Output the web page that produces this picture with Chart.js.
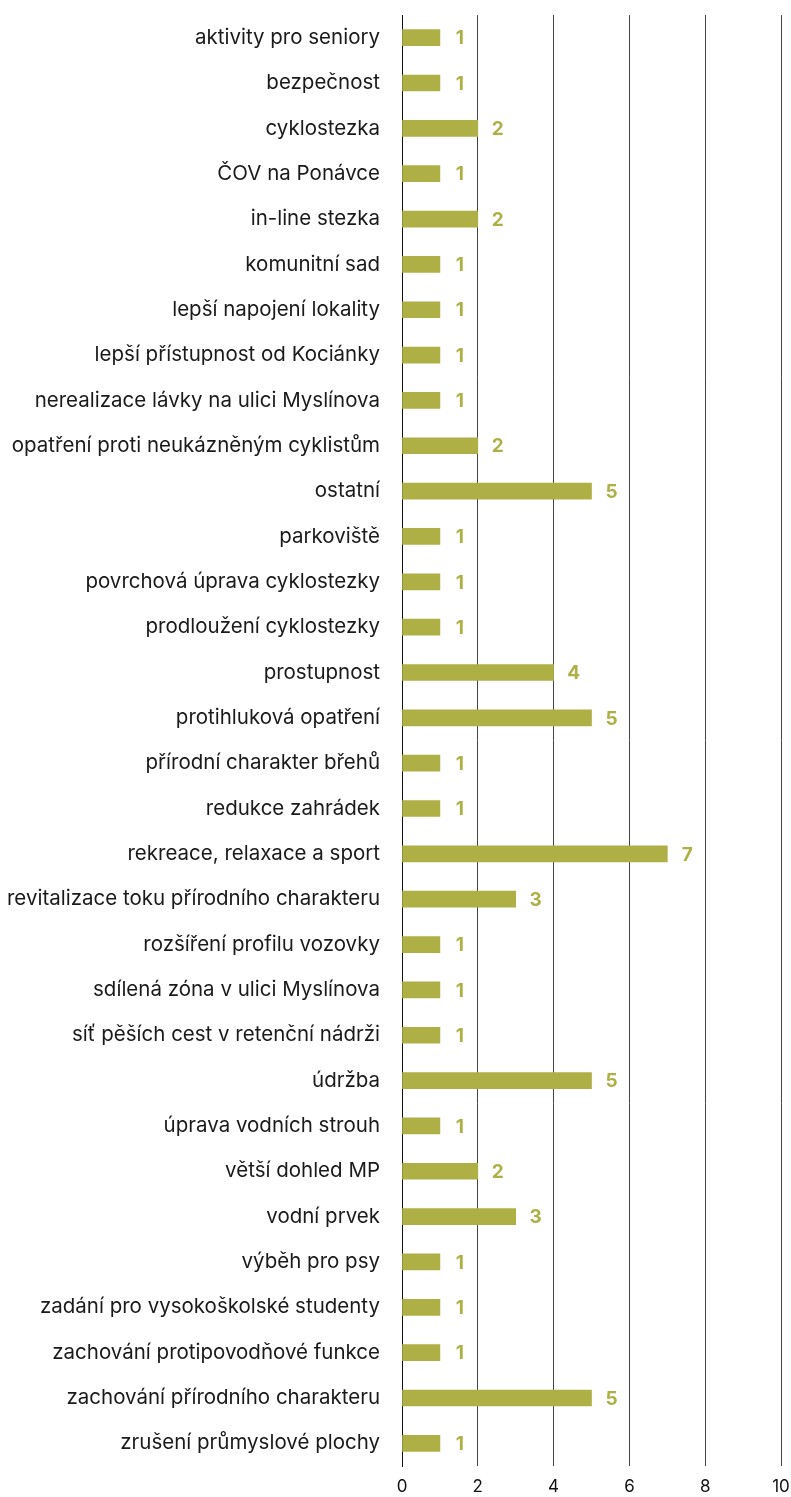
<!DOCTYPE html>
<html lang="cs">
<head>
<meta charset="UTF-8">
<title>Graf</title>
<script src="https://cdn.jsdelivr.net/npm/chart.js@4/dist/chart.umd.min.js"></script>
<style>
  body { margin: 0; background: #fff; }
  #wrap { width: 791px; height: 1497px; position: relative; }
</style>
</head>
<body>
<div id="wrap"><canvas id="myChart"></canvas></div>
<script>
var labels = [
  "aktivity pro seniory", "bezpečnost", "cyklostezka", "ČOV na Ponávce",
  "in-line stezka", "komunitní sad", "lepší napojení lokality",
  "lepší přístupnost od Kociánky", "nerealizace lávky na ulici Myslínova",
  "opatření proti neukázněným cyklistům", "ostatní", "parkoviště",
  "povrchová úprava cyklostezky", "prodloužení cyklostezky", "prostupnost",
  "protihluková opatření", "přírodní charakter břehů", "redukce zahrádek",
  "rekreace, relaxace a sport", "revitalizace toku přírodního charakteru",
  "rozšíření profilu vozovky", "sdílená zóna v ulici Myslínova",
  "síť pěších cest v retenční nádrži", "údržba", "úprava vodních strouh",
  "větší dohled MP", "vodní prvek", "výběh pro psy",
  "zadání pro vysokoškolské studenty", "zachování protipovodňové funkce",
  "zachování přírodního charakteru", "zrušení průmyslové plochy"
];
var counts = [1, 1, 2, 1, 2, 1, 1, 1, 1, 2, 5, 1, 1, 1, 4, 5, 1, 1, 7, 3, 1, 1, 1, 5, 1, 2, 3, 1, 1, 1, 5, 1];
var xTicks = [0, 2, 4, 6, 8, 10];

var olive = "#aeb046";
var fontName = "Inter, 'Noto Sans', sans-serif";

// value labels next to each bar
var valueLabels = {
  id: "valueLabels",
  afterDatasetsDraw: function (chart) {
    var ctx = chart.ctx;
    var meta = chart.getDatasetMeta(0);
    ctx.save();
    ctx.fillStyle = olive;
    ctx.font = "bold 19px " + fontName;
    ctx.textAlign = "center";
    ctx.textBaseline = "middle";
    meta.data.forEach(function (bar, i) {
      ctx.fillText(counts[i], bar.x + 20, bar.y + 1);
    });
    ctx.restore();
  }
};

new Chart(document.getElementById("myChart"), {
  type: "bar",
  data: {
    labels: labels,
    datasets: [{
      data: counts,
      backgroundColor: olive,
      barThickness: 16
    }]
  },
  options: {
    indexAxis: "y",
    responsive: true,
    maintainAspectRatio: false,
    animation: false,
    layout: { padding: { top: 15, right: 10, left: 0, bottom: 0 } },
    plugins: {
      legend: { display: false },
      tooltip: { enabled: false }
    },
    scales: {
      x: {
        min: 0,
        max: 10,
        z: 1,
        afterBuildTicks: function (scale) {
          scale.ticks = xTicks.map(function (v) { return { value: v }; });
        },
        afterFit: function (scale) {
          scale.height = 31;
          scale.paddingLeft = 0;
          scale.paddingRight = 0;
        },
        grid: {
          color: function (c) { return c.tick && c.tick.value === 0 ? "#111" : "#444"; },
          lineWidth: 1,
          drawTicks: false
        },
        border: { display: false },
        ticks: {
          padding: 11,
          color: "#111",
          font: { family: fontName, size: 17 }
        }
      },
      y: {
        afterFit: function (scale) {
          scale.width = 402;
          scale.paddingTop = 0;
          scale.paddingBottom = 0;
        },
        grid: { display: false, drawTicks: false },
        border: { display: true, color: "#111" },
        ticks: {
          padding: 22,
          color: "#1a1a1a",
          font: { family: fontName, size: 20.5 }
        }
      }
    }
  },
  plugins: [valueLabels]
});
</script>
</body>
</html>
